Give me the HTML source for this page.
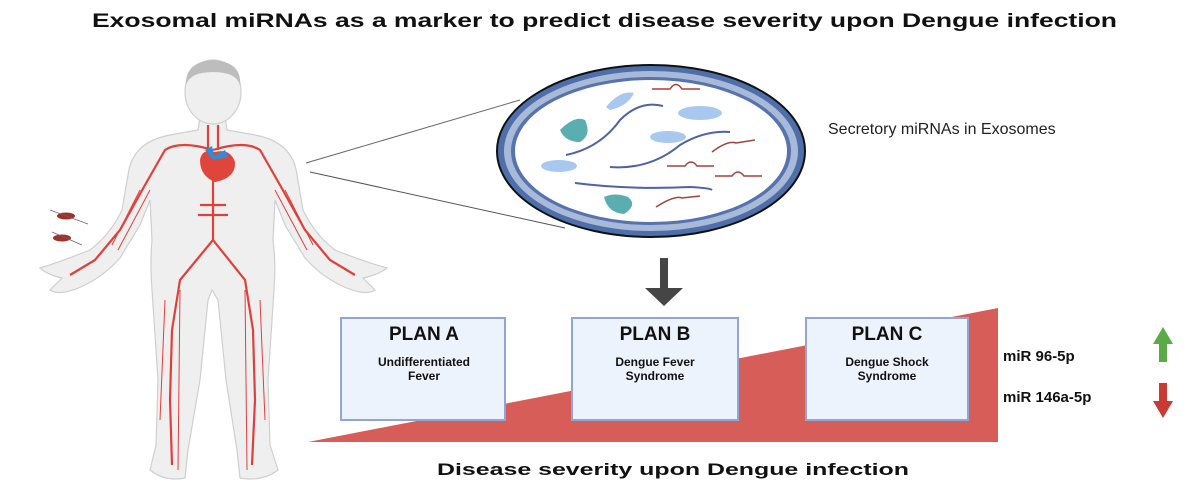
<!DOCTYPE html>
<html><head><meta charset="utf-8"><style>
html,body{margin:0;padding:0;background:#fff;}
svg{display:block;}
text{font-family:"Liberation Sans",sans-serif;}
</style></head><body>
<svg width="1200" height="500" viewBox="0 0 1200 500" xmlns="http://www.w3.org/2000/svg">
<rect width="1200" height="500" fill="#fff"/>
<text x="92" y="27" font-size="19" font-weight="bold" textLength="1025" lengthAdjust="spacingAndGlyphs" fill="#111">Exosomal miRNAs as a marker to predict disease severity upon Dengue infection</text>

<!-- human body -->
<g fill="#efefef" stroke="#cfcfcf" stroke-width="1.2">
<path d="M200,117 L198,130 L170,135 Q132,142 128,175 L122,210 Q110,235 90,250 Q60,262 40,268 Q48,275 62,278 L50,290 Q60,297 85,285 Q105,275 120,258 L140,225 L150,200 L152,240 Q150,262 152,290 L158,380 L156,445 L150,470 Q165,482 185,478 L188,450 L200,380 L208,300 L212,290 L218,300 L226,380 L237,450 L240,478 Q262,482 278,470 L270,445 L268,380 L274,290 Q276,262 273,240 L275,200 L285,225 L305,258 Q320,275 340,285 Q365,297 375,290 L363,278 Q378,275 387,268 Q365,262 335,250 Q315,235 303,210 L297,175 Q293,142 255,135 L227,130 L225,117 Z"/>
<ellipse cx="213" cy="92" rx="28" ry="32"/>
</g>
<path d="M186,85 Q185,62 213,60 Q242,62 240,85 Q236,72 213,72 Q190,72 186,85Z" fill="#bdbdbd"/>
<g stroke="#e0403a" stroke-width="2.2" fill="none">
<path d="M213,175 L213,240 L180,280 L172,330 L170,400 L172,465"/>
<path d="M213,240 L245,280 L253,330 L255,400 L252,465"/>
<path d="M208,125 L208,150 L213,165 M218,125 L218,150"/>
<path d="M213,150 Q180,140 165,150 L145,185 L120,230 L95,260 L70,275"/>
<path d="M213,150 Q245,140 260,150 L280,185 L305,230 L330,260 L355,275"/>
<path d="M200,205 L226,205 M198,215 L228,215"/>
</g>
<g stroke="#e0403a" stroke-width="1" fill="none">
<path d="M140,190 L112,245 M150,190 L118,250 M285,190 L313,245 M275,190 L307,250 M165,300 L160,420 M260,300 L265,420 M180,290 L178,470 M245,290 L247,470"/>
</g>
<path d="M200,160 Q202,148 215,152 Q230,148 235,162 Q236,178 215,182 Q200,176 200,160Z" fill="#e0453c"/>
<path d="M205,150 L212,146 L214,156 L225,150 L228,157 L213,160Z" fill="#2a8fd8"/>
<!-- mosquitoes -->
<g fill="#a0302a"><ellipse cx="66" cy="216" rx="9" ry="3.5"/><ellipse cx="62" cy="238" rx="9" ry="3.5"/></g>
<g stroke="#666" stroke-width="0.7"><path d="M50,210 L88,224 M52,232 L82,245"/></g>

<!-- connector lines -->
<line x1="306" y1="163" x2="520" y2="100" stroke="#666" stroke-width="1"/>
<line x1="310" y1="172" x2="565" y2="228" stroke="#555" stroke-width="1"/>

<!-- exosome -->
<ellipse cx="651" cy="151" rx="154" ry="86" fill="#4f6faa" stroke="#111" stroke-width="2"/>
<ellipse cx="651" cy="151" rx="147" ry="80" fill="#a9bad8"/>
<ellipse cx="651" cy="151" rx="140" ry="74" fill="#5673ad"/>
<ellipse cx="651" cy="151" rx="136" ry="71" fill="#fff"/>
<g stroke="#4e62a6" stroke-width="2" fill="none">
<path d="M566,155 Q600,148 620,120 Q640,100 663,106"/>
<path d="M610,167 Q650,170 680,145 Q705,130 730,132"/>
<path d="M575,183 Q630,190 690,187 Q710,188 712,190"/>
</g>
<g stroke="#a3423e" stroke-width="1.5" fill="none">
<path d="M652,89 L670,89 Q676,80 682,89 L700,89"/>
<path d="M712,152 Q728,140 736,143 L755,140"/>
<path d="M667,166 L685,166 Q691,158 697,166 L714,166"/>
<path d="M715,176 L732,176 Q738,168 744,176 L762,176"/>
<path d="M656,207 Q675,195 682,198 L700,196"/>
</g>
<g fill="#a8c8ef"><path d="M606,107 Q620,90 634,93 Q628,106 610,110Z"/><ellipse cx="700" cy="113" rx="22" ry="7"/><ellipse cx="668" cy="137" rx="18" ry="6"/><ellipse cx="559" cy="166" rx="18" ry="6"/></g>
<g fill="#5aaeb0"><path d="M560,130 Q575,115 585,120 Q592,135 580,142 Q565,142 560,130Z"/><path d="M604,197 Q615,192 628,197 Q638,205 624,214 Q608,213 604,197Z"/></g>

<text x="828" y="134" font-size="16" fill="#222">Secretory miRNAs in Exosomes</text>

<!-- down arrow -->
<rect x="660" y="258" width="8" height="32" fill="#454545"/>
<polygon points="645,288 683,288 664,306" fill="#454545"/>

<!-- severity triangle -->
<polygon points="308,442 998,308 998,442" fill="#d65d58"/>

<g fill="#edf3fc" stroke="#8fa6d6" stroke-width="2">
<rect x="341" y="318" width="164" height="102"/>
<rect x="572" y="318" width="166" height="102"/>
<rect x="806" y="318" width="162" height="102"/>
</g>
<g font-weight="bold" fill="#111" text-anchor="middle">
<text x="424" y="340" font-size="19">PLAN A</text>
<text x="655" y="340" font-size="19">PLAN B</text>
<text x="887" y="340" font-size="19">PLAN C</text>
<text x="424" y="366" font-size="12">Undifferentiated</text>
<text x="424" y="380" font-size="12">Fever</text>
<text x="655" y="366" font-size="12">Dengue Fever</text>
<text x="655" y="380" font-size="12">Syndrome</text>
<text x="887" y="366" font-size="12">Dengue Shock</text>
<text x="887" y="380" font-size="12">Syndrome</text>
</g>
<text x="437" y="475" font-size="17" font-weight="bold" fill="#111" textLength="472" lengthAdjust="spacingAndGlyphs">Disease severity upon Dengue infection</text>
<text x="1003" y="361" font-size="15" font-weight="bold" fill="#111">miR 96-5p</text>
<text x="1003" y="402" font-size="15" font-weight="bold" fill="#111">miR 146a-5p</text>
<polygon points="1163,327 1173,344 1167,344 1167,362 1159,362 1159,344 1153,344" fill="#5aab45"/>
<polygon points="1159,383 1167,383 1167,401 1173,401 1163,418 1153,401 1159,401" fill="#c93a32"/>
</svg>
</body></html>
